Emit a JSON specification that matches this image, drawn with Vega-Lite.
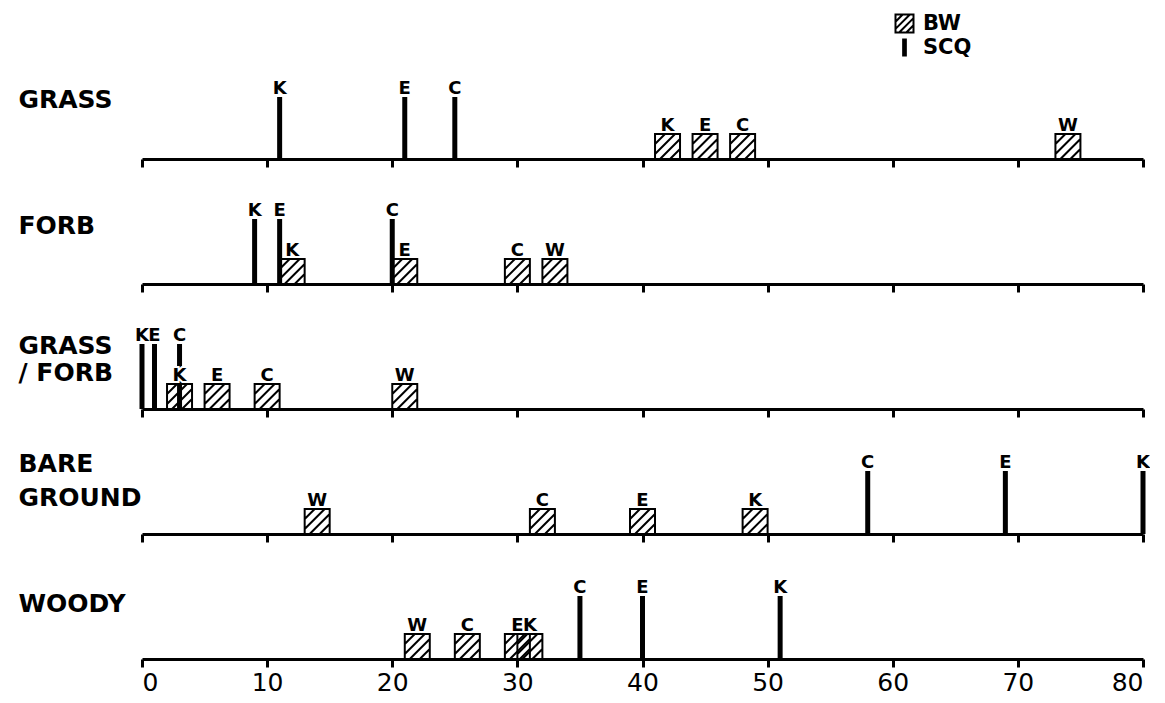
{
  "$schema": "https://vega.github.io/schema/vega-lite/v6.json",
  "background": "white",
  "padding": {"left": 18, "top": 5, "right": 0, "bottom": 0},
  "datasets": {
    "d": [
      {"cat": "GRASS", "type": "SCQ", "letter": "K", "x": 11},
      {"cat": "GRASS", "type": "SCQ", "letter": "E", "x": 21},
      {"cat": "GRASS", "type": "SCQ", "letter": "C", "x": 25},
      {"cat": "GRASS", "type": "BW", "letter": "K", "x": 42},
      {"cat": "GRASS", "type": "BW", "letter": "E", "x": 45},
      {"cat": "GRASS", "type": "BW", "letter": "C", "x": 48},
      {"cat": "GRASS", "type": "BW", "letter": "W", "x": 74},
      {"cat": "FORB", "type": "SCQ", "letter": "K", "x": 9},
      {"cat": "FORB", "type": "SCQ", "letter": "E", "x": 11},
      {"cat": "FORB", "type": "SCQ", "letter": "C", "x": 20},
      {"cat": "FORB", "type": "BW", "letter": "K", "x": 12},
      {"cat": "FORB", "type": "BW", "letter": "E", "x": 21},
      {"cat": "FORB", "type": "BW", "letter": "C", "x": 30},
      {"cat": "FORB", "type": "BW", "letter": "W", "x": 33},
      {"cat": "GF", "type": "SCQ", "letter": "K", "x": 0},
      {"cat": "GF", "type": "SCQ", "letter": "E", "x": 1},
      {"cat": "GF", "type": "SCQ", "letter": "C", "x": 3},
      {"cat": "GF", "type": "BW", "letter": "K", "x": 3},
      {"cat": "GF", "type": "BW", "letter": "E", "x": 6},
      {"cat": "GF", "type": "BW", "letter": "C", "x": 10},
      {"cat": "GF", "type": "BW", "letter": "W", "x": 21},
      {"cat": "BARE", "type": "BW", "letter": "W", "x": 14},
      {"cat": "BARE", "type": "BW", "letter": "C", "x": 32},
      {"cat": "BARE", "type": "BW", "letter": "E", "x": 40},
      {"cat": "BARE", "type": "BW", "letter": "K", "x": 49},
      {"cat": "BARE", "type": "SCQ", "letter": "C", "x": 58},
      {"cat": "BARE", "type": "SCQ", "letter": "E", "x": 69},
      {"cat": "BARE", "type": "SCQ", "letter": "K", "x": 80},
      {"cat": "WOODY", "type": "BW", "letter": "W", "x": 22},
      {"cat": "WOODY", "type": "BW", "letter": "C", "x": 26},
      {"cat": "WOODY", "type": "BW", "letter": "E", "x": 30},
      {"cat": "WOODY", "type": "BW", "letter": "K", "x": 31},
      {"cat": "WOODY", "type": "SCQ", "letter": "C", "x": 35},
      {"cat": "WOODY", "type": "SCQ", "letter": "E", "x": 40},
      {"cat": "WOODY", "type": "SCQ", "letter": "K", "x": 51}
    ]
  },
  "data": {"name": "d"},
  "spacing": 15,
  "resolve": {"scale": {"x": "independent", "y": "independent", "shape": "independent"}, "legend": {"shape": "independent"}},
  "vconcat": [
    {
      "width": 1001, "height": 154,
      "transform": [{"filter": "datum.cat === 'GRASS'"}],
      "layer": [
        {"transform": [{"filter": "datum.type === 'BW'"}],
         "mark": {"type": "point", "size": 625, "filled": false, "color": "black", "strokeWidth": 2, "opacity": 1, "yOffset": -12.5},
         "encoding": {
           "x": {"field": "x", "type": "quantitative", "scale": {"domain": [0, 80], "nice": false, "zero": false}, "axis": {"values": [0,10,20,30,40,50,60,70,80], "labels": false, "title": null, "grid": false}},
           "y": {"datum": 0, "type": "quantitative", "scale": {"domain": [0, 154], "nice": false, "zero": false}, "axis": {"title": "GRASS", "titleY": 102, "domain": false, "ticks": false, "labels": false, "grid": false}},
           "shape": {"field": "type", "type": "nominal",
             "scale": {"domain": ["BW", "SCQ"], "range": ["M-1,-1H1V1H-1Z M-1,-0.2L-0.2,-1 M-1,0.6L0.6,-1 M-0.6,1L1,-0.6 M0.2,1L1,0.2", "M-0.15,-1V1 M-0.05,-1V1 M0.05,-1V1 M0.15,-1V1"]},
             "legend": {"orient": "none", "legendX": 752, "legendY": 8, "title": null, "symbolSize": 324, "symbolStrokeWidth": 2, "symbolStrokeColor": "black", "labelFont": "DejaVu Sans", "labelFontSize": 21, "labelFontWeight": "bold", "labelColor": "black", "labelOffset": 8, "rowPadding": -3, "padding": 0,
               "encode": {"symbols": {"update": {"stroke": {"value": "black"}, "strokeWidth": {"value": 2}, "opacity": {"value": 1}}}}}}
         }},
        {"transform": [{"filter": "datum.type === 'SCQ'"}],
         "mark": {"type": "rule", "color": "black", "strokeWidth": 5, "strokeCap": "butt"},
         "encoding": {"x": {"field": "x", "type": "quantitative"}, "y": {"datum": 0, "type": "quantitative"}, "y2": {"datum": 62}}},
        {"transform": [{"filter": "datum.type === 'BW'"}],
         "mark": {"type": "text", "font": "DejaVu Sans", "fontSize": 18, "fontWeight": "bold", "fill": "white", "stroke": "white", "strokeWidth": 4, "baseline": "alphabetic", "dy": -3},
         "encoding": {"x": {"field": "x", "type": "quantitative"}, "y": {"datum": 25, "type": "quantitative"}, "text": {"field": "letter"}}},
        {"transform": [{"filter": "datum.type === 'BW'"}],
         "mark": {"type": "text", "font": "DejaVu Sans", "fontSize": 18, "fontWeight": "bold", "color": "black", "baseline": "alphabetic", "dy": -3},
         "encoding": {"x": {"field": "x", "type": "quantitative"}, "y": {"datum": 25, "type": "quantitative"}, "text": {"field": "letter"}}},
        {"transform": [{"filter": "datum.type === 'SCQ'"}],
         "mark": {"type": "text", "font": "DejaVu Sans", "fontSize": 18, "fontWeight": "bold", "color": "black", "baseline": "alphabetic", "dy": -3},
         "encoding": {"x": {"field": "x", "type": "quantitative"}, "y": {"datum": 62, "type": "quantitative"}, "text": {"field": "letter"}}}
      ]
    },
    {
      "width": 1001, "height": 100,
      "transform": [{"filter": "datum.cat === 'FORB'"}],
      "layer": [
        {"transform": [{"filter": "datum.type === 'BW'"}],
         "mark": {"type": "point", "shape": "M-1,-1H1V1H-1Z M-1,-0.2L-0.2,-1 M-1,0.6L0.6,-1 M-0.6,1L1,-0.6 M0.2,1L1,0.2", "size": 625, "filled": false, "color": "black", "strokeWidth": 2, "opacity": 1, "yOffset": -12.5},
         "encoding": {
           "x": {"field": "x", "type": "quantitative", "scale": {"domain": [0, 80], "nice": false, "zero": false}, "axis": {"values": [0,10,20,30,40,50,60,70,80], "labels": false, "title": null, "grid": false}},
           "y": {"datum": 0, "type": "quantitative", "scale": {"domain": [0, 100], "nice": false, "zero": false}, "axis": {"title": "FORB", "titleY": 49, "domain": false, "ticks": false, "labels": false, "grid": false}}
         }},
        {"transform": [{"filter": "datum.type === 'SCQ'"}],
         "mark": {"type": "rule", "color": "black", "strokeWidth": 5, "strokeCap": "butt"},
         "encoding": {"x": {"field": "x", "type": "quantitative"}, "y": {"datum": 0, "type": "quantitative"}, "y2": {"datum": 65}}},
        {"transform": [{"filter": "datum.type === 'BW'"}],
         "mark": {"type": "text", "font": "DejaVu Sans", "fontSize": 18, "fontWeight": "bold", "fill": "white", "stroke": "white", "strokeWidth": 4, "baseline": "alphabetic", "dy": -3},
         "encoding": {"x": {"field": "x", "type": "quantitative"}, "y": {"datum": 25, "type": "quantitative"}, "text": {"field": "letter"}}},
        {"transform": [{"filter": "datum.type === 'BW'"}],
         "mark": {"type": "text", "font": "DejaVu Sans", "fontSize": 18, "fontWeight": "bold", "color": "black", "baseline": "alphabetic", "dy": -3},
         "encoding": {"x": {"field": "x", "type": "quantitative"}, "y": {"datum": 25, "type": "quantitative"}, "text": {"field": "letter"}}},
        {"transform": [{"filter": "datum.type === 'SCQ'"}],
         "mark": {"type": "text", "font": "DejaVu Sans", "fontSize": 18, "fontWeight": "bold", "color": "black", "baseline": "alphabetic", "dy": -3},
         "encoding": {"x": {"field": "x", "type": "quantitative"}, "y": {"datum": 65, "type": "quantitative"}, "text": {"field": "letter"}}}
      ]
    },
    {
      "width": 1001, "height": 100,
      "transform": [{"filter": "datum.cat === 'GF'"}],
      "layer": [
        {"transform": [{"filter": "datum.type === 'BW'"}],
         "mark": {"type": "point", "shape": "M-1,-1H1V1H-1Z M-1,-0.2L-0.2,-1 M-1,0.6L0.6,-1 M-0.6,1L1,-0.6 M0.2,1L1,0.2", "size": 625, "filled": false, "color": "black", "strokeWidth": 2, "opacity": 1, "yOffset": -12.5},
         "encoding": {
           "x": {"field": "x", "type": "quantitative", "scale": {"domain": [0, 80], "nice": false, "zero": false}, "axis": {"values": [0,10,20,30,40,50,60,70,80], "labels": false, "title": null, "grid": false}},
           "y": {"datum": 0, "type": "quantitative", "scale": {"domain": [0, 100], "nice": false, "zero": false}, "axis": {"title": ["GRASS", "/ FORB"], "titleY": 44, "titleLineHeight": 27, "domain": false, "ticks": false, "labels": false, "grid": false}}
         }},
        {"transform": [{"filter": "datum.type === 'SCQ'"}],
         "mark": {"type": "rule", "color": "black", "strokeWidth": 5, "strokeCap": "butt"},
         "encoding": {"x": {"field": "x", "type": "quantitative"}, "y": {"datum": 0, "type": "quantitative"}, "y2": {"datum": 65}}},
        {"transform": [{"filter": "datum.type === 'BW'"}],
         "mark": {"type": "text", "font": "DejaVu Sans", "fontSize": 18, "fontWeight": "bold", "fill": "white", "stroke": "white", "strokeWidth": 4, "baseline": "alphabetic", "dy": -3},
         "encoding": {"x": {"field": "x", "type": "quantitative"}, "y": {"datum": 25, "type": "quantitative"}, "text": {"field": "letter"}}},
        {"transform": [{"filter": "datum.type === 'BW'"}],
         "mark": {"type": "text", "font": "DejaVu Sans", "fontSize": 18, "fontWeight": "bold", "color": "black", "baseline": "alphabetic", "dy": -3},
         "encoding": {"x": {"field": "x", "type": "quantitative"}, "y": {"datum": 25, "type": "quantitative"}, "text": {"field": "letter"}}},
        {"transform": [{"filter": "datum.type === 'SCQ'"}],
         "mark": {"type": "text", "font": "DejaVu Sans", "fontSize": 18, "fontWeight": "bold", "color": "black", "baseline": "alphabetic", "dy": -3},
         "encoding": {"x": {"field": "x", "type": "quantitative"}, "y": {"datum": 65, "type": "quantitative"}, "text": {"field": "letter"}}}
      ]
    },
    {
      "width": 1001, "height": 100,
      "transform": [{"filter": "datum.cat === 'BARE'"}],
      "layer": [
        {"transform": [{"filter": "datum.type === 'BW'"}],
         "mark": {"type": "point", "shape": "M-1,-1H1V1H-1Z M-1,-0.2L-0.2,-1 M-1,0.6L0.6,-1 M-0.6,1L1,-0.6 M0.2,1L1,0.2", "size": 625, "filled": false, "color": "black", "strokeWidth": 2, "opacity": 1, "yOffset": -12.5},
         "encoding": {
           "x": {"field": "x", "type": "quantitative", "scale": {"domain": [0, 80], "nice": false, "zero": false}, "axis": {"values": [0,10,20,30,40,50,60,70,80], "labels": false, "title": null, "grid": false}},
           "y": {"datum": 0, "type": "quantitative", "scale": {"domain": [0, 100], "nice": false, "zero": false}, "axis": {"title": ["BARE", "GROUND"], "titleY": 37, "titleLineHeight": 34, "domain": false, "ticks": false, "labels": false, "grid": false}}
         }},
        {"transform": [{"filter": "datum.type === 'SCQ'"}],
         "mark": {"type": "rule", "color": "black", "strokeWidth": 5, "strokeCap": "butt"},
         "encoding": {"x": {"field": "x", "type": "quantitative"}, "y": {"datum": 0, "type": "quantitative"}, "y2": {"datum": 63}}},
        {"transform": [{"filter": "datum.type === 'BW'"}],
         "mark": {"type": "text", "font": "DejaVu Sans", "fontSize": 18, "fontWeight": "bold", "fill": "white", "stroke": "white", "strokeWidth": 4, "baseline": "alphabetic", "dy": -3},
         "encoding": {"x": {"field": "x", "type": "quantitative"}, "y": {"datum": 25, "type": "quantitative"}, "text": {"field": "letter"}}},
        {"transform": [{"filter": "datum.type === 'BW'"}],
         "mark": {"type": "text", "font": "DejaVu Sans", "fontSize": 18, "fontWeight": "bold", "color": "black", "baseline": "alphabetic", "dy": -3},
         "encoding": {"x": {"field": "x", "type": "quantitative"}, "y": {"datum": 25, "type": "quantitative"}, "text": {"field": "letter"}}},
        {"transform": [{"filter": "datum.type === 'SCQ'"}],
         "mark": {"type": "text", "font": "DejaVu Sans", "fontSize": 18, "fontWeight": "bold", "color": "black", "baseline": "alphabetic", "dy": -3},
         "encoding": {"x": {"field": "x", "type": "quantitative"}, "y": {"datum": 63, "type": "quantitative"}, "text": {"field": "letter"}}}
      ]
    },
    {
      "width": 1001, "height": 100,
      "transform": [{"filter": "datum.cat === 'WOODY'"}],
      "layer": [
        {"transform": [{"filter": "datum.type === 'BW'"}],
         "mark": {"type": "point", "shape": "M-1,-1H1V1H-1Z M-1,-0.2L-0.2,-1 M-1,0.6L0.6,-1 M-0.6,1L1,-0.6 M0.2,1L1,0.2", "size": 625, "filled": false, "color": "black", "strokeWidth": 2, "opacity": 1, "yOffset": -12.5},
         "encoding": {
           "x": {"field": "x", "type": "quantitative", "scale": {"domain": [0, 80], "nice": false, "zero": false}, "axis": {"values": [0,10,20,30,40,50,60,70,80], "labels": true, "labelFont": "DejaVu Sans", "labelFontSize": 25, "labelColor": "black", "labelPadding": 3, "title": null, "grid": false}},
           "y": {"datum": 0, "type": "quantitative", "scale": {"domain": [0, 100], "nice": false, "zero": false}, "axis": {"title": "WOODY", "titleY": 52, "domain": false, "ticks": false, "labels": false, "grid": false}}
         }},
        {"transform": [{"filter": "datum.type === 'SCQ'"}],
         "mark": {"type": "rule", "color": "black", "strokeWidth": 5, "strokeCap": "butt"},
         "encoding": {"x": {"field": "x", "type": "quantitative"}, "y": {"datum": 0, "type": "quantitative"}, "y2": {"datum": 63}}},
        {"transform": [{"filter": "datum.type === 'BW'"}],
         "mark": {"type": "text", "font": "DejaVu Sans", "fontSize": 18, "fontWeight": "bold", "fill": "white", "stroke": "white", "strokeWidth": 4, "baseline": "alphabetic", "dy": -3},
         "encoding": {"x": {"field": "x", "type": "quantitative"}, "y": {"datum": 25, "type": "quantitative"}, "text": {"field": "letter"}}},
        {"transform": [{"filter": "datum.type === 'BW'"}],
         "mark": {"type": "text", "font": "DejaVu Sans", "fontSize": 18, "fontWeight": "bold", "color": "black", "baseline": "alphabetic", "dy": -3},
         "encoding": {"x": {"field": "x", "type": "quantitative"}, "y": {"datum": 25, "type": "quantitative"}, "text": {"field": "letter"}}},
        {"transform": [{"filter": "datum.type === 'SCQ'"}],
         "mark": {"type": "text", "font": "DejaVu Sans", "fontSize": 18, "fontWeight": "bold", "color": "black", "baseline": "alphabetic", "dy": -3},
         "encoding": {"x": {"field": "x", "type": "quantitative"}, "y": {"datum": 63, "type": "quantitative"}, "text": {"field": "letter"}}}
      ]
    }
  ],
  "config": {
    "view": {"stroke": null},
    "axis": {"domainColor": "black", "domainWidth": 3, "tickColor": "black", "tickWidth": 3, "tickSize": 8},
    "axisY": {"titleAngle": 0, "titleAlign": "left", "titleBaseline": "alphabetic", "titleX": -124, "titleFont": "DejaVu Sans", "titleFontSize": 25, "titleFontWeight": "bold", "titleColor": "black"}
  }
}
